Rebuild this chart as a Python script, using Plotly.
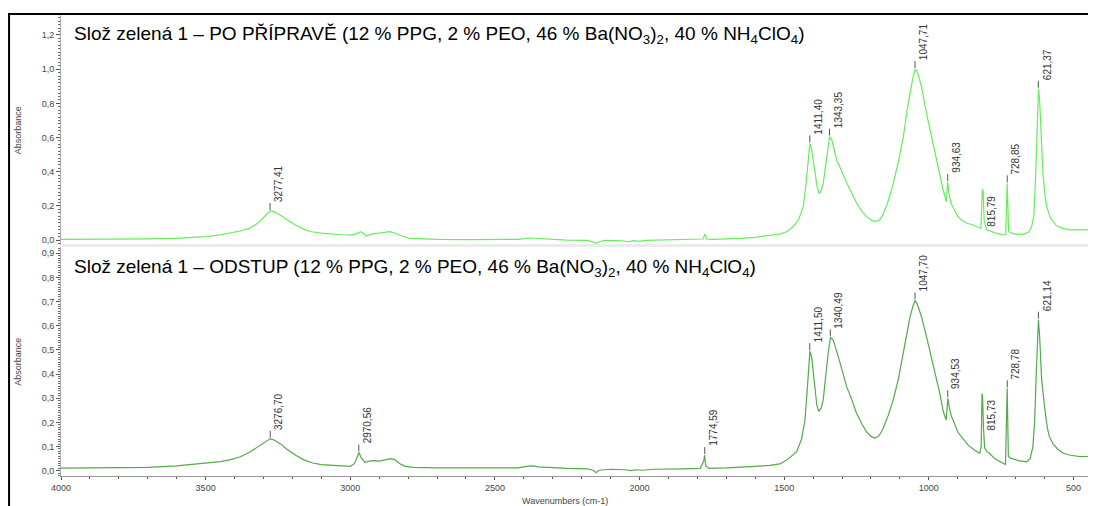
import numpy as np
import plotly.graph_objects as go

# ---------------- data ----------------
top_wn = [4000, 3900, 3800, 3700, 3600, 3500, 3450, 3416, 3380, 3347, 3320, 3300, 3285, 3277, 3265,
          3245, 3220, 3190, 3160, 3139, 3100, 3070, 3030, 2995, 2980, 2964, 2955, 2945, 2935, 2921,
          2900, 2880, 2863, 2845, 2820, 2794, 2750, 2700, 2600, 2500, 2420, 2380, 2360, 2330, 2250,
          2180, 2160, 2150, 2140, 2120, 2060, 2040, 2020, 2000, 1980, 1900, 1800, 1780, 1774, 1768,
          1750, 1700, 1650, 1600, 1560, 1515, 1490, 1469, 1450, 1434, 1425, 1417, 1411, 1405, 1398,
          1394, 1386, 1379, 1372, 1365, 1356, 1348, 1343, 1335, 1319, 1300, 1284, 1265, 1250, 1230,
          1215, 1200, 1186, 1170, 1158, 1140, 1123, 1105, 1088, 1075, 1065, 1055, 1047, 1040, 1033,
          1025, 1008, 995, 985, 972, 962, 950, 939, 935, 930, 923, 916, 900, 887, 870,
          847, 830, 820, 817, 815, 812, 809, 800, 780, 766, 745, 734, 729, 724, 714,
          700, 674, 655, 645, 637, 630, 625, 621, 617, 612, 605, 598, 593, 580, 559,
          540, 512, 460, 422]
top_abs = [0.004, 0.004, 0.005, 0.007, 0.010, 0.020, 0.030, 0.039, 0.053, 0.070, 0.098, 0.132, 0.160, 0.170, 0.166,
           0.150, 0.120, 0.088, 0.064, 0.050, 0.040, 0.035, 0.031, 0.029, 0.036, 0.049, 0.040, 0.024, 0.028, 0.038,
           0.040, 0.044, 0.049, 0.040, 0.022, 0.010, 0.006, 0.004, 0.003, 0.002, 0.004, 0.012, 0.010, 0.004, 0.000,
           -0.002, -0.012, -0.018, -0.010, -0.002, -0.004, -0.010, -0.004, -0.008, -0.002, 0.002, 0.003, 0.006, 0.035, 0.006,
           0.004, 0.006, 0.010, 0.016, 0.024, 0.035, 0.050, 0.078, 0.120, 0.195, 0.320, 0.470, 0.566, 0.530, 0.440,
           0.390, 0.310, 0.272, 0.290, 0.332, 0.450, 0.560, 0.605, 0.585, 0.470, 0.400, 0.335, 0.270, 0.217, 0.165,
           0.137, 0.118, 0.108, 0.118, 0.150, 0.230, 0.330, 0.460, 0.605, 0.760, 0.860, 0.950, 1.000, 0.985, 0.945,
           0.897, 0.742, 0.640, 0.566, 0.470, 0.390, 0.290, 0.224, 0.340, 0.270, 0.215, 0.190, 0.140, 0.117, 0.100,
           0.088, 0.075, 0.068, 0.200, 0.295, 0.290, 0.120, 0.060, 0.045, 0.039, 0.032, 0.030, 0.332, 0.050, 0.040,
           0.035, 0.033, 0.045, 0.075, 0.140, 0.400, 0.720, 0.885, 0.820, 0.600, 0.380, 0.260, 0.200, 0.130, 0.085,
           0.070, 0.060, 0.059, 0.062]

bot_wn = [4000, 3900, 3800, 3700, 3600, 3500, 3450, 3416, 3380, 3350, 3320, 3300, 3285, 3277, 3265,
          3240, 3220, 3190, 3160, 3130, 3100, 3050, 3000, 2985, 2975, 2970, 2963, 2950, 2935, 2920,
          2900, 2880, 2860, 2845, 2830, 2810, 2780, 2700, 2600, 2500, 2420, 2390, 2370, 2350, 2300,
          2250, 2180, 2160, 2150, 2140, 2100, 2050, 2030, 2010, 1990, 1950, 1850, 1790, 1778, 1775,
          1771, 1760, 1700, 1650, 1600, 1550, 1515, 1490, 1457, 1440, 1428, 1420, 1413, 1411, 1405,
          1398, 1394, 1387, 1380, 1372, 1365, 1356, 1348, 1340, 1330, 1313, 1300, 1284, 1265, 1250,
          1230, 1215, 1200, 1186, 1172, 1158, 1140, 1123, 1105, 1088, 1075, 1065, 1055, 1048, 1040,
          1033, 1025, 1008, 995, 985, 972, 962, 950, 940, 934, 929, 922, 916, 900, 887,
          875, 864, 845, 824, 819, 816, 814, 811, 807, 800, 789, 770, 754, 735, 729,
          725, 718, 708, 690, 662, 650, 640, 634, 628, 621, 617, 610, 600, 590, 583,
          570, 553, 535, 510, 477, 450, 422]
bot_abs = [0.011, 0.011, 0.012, 0.014, 0.020, 0.030, 0.038, 0.045, 0.058, 0.075, 0.098, 0.115, 0.128, 0.132, 0.128,
           0.110, 0.090, 0.065, 0.045, 0.032, 0.025, 0.020, 0.018, 0.030, 0.060, 0.075, 0.055, 0.035, 0.040, 0.042,
           0.040, 0.046, 0.050, 0.045, 0.030, 0.018, 0.014, 0.012, 0.011, 0.011, 0.012, 0.018, 0.020, 0.016, 0.012,
           0.010, 0.008, 0.002, -0.008, 0.002, 0.006, 0.004, 0.000, 0.004, 0.002, 0.006, 0.008, 0.010, 0.040, 0.065,
           0.020, 0.010, 0.012, 0.014, 0.018, 0.022, 0.028, 0.045, 0.079, 0.130, 0.210, 0.340, 0.460, 0.495, 0.470,
           0.380, 0.335, 0.270, 0.245, 0.260, 0.293, 0.400, 0.486, 0.552, 0.540, 0.472, 0.415, 0.348, 0.290, 0.238,
           0.190, 0.161, 0.142, 0.134, 0.145, 0.175, 0.230, 0.293, 0.380, 0.486, 0.580, 0.637, 0.680, 0.705, 0.690,
           0.665, 0.637, 0.555, 0.490, 0.430, 0.370, 0.320, 0.245, 0.210, 0.300, 0.260, 0.225, 0.210, 0.160, 0.141,
           0.120, 0.106, 0.088, 0.072, 0.100, 0.320, 0.300, 0.180, 0.095, 0.080, 0.070, 0.048, 0.037, 0.026, 0.341,
           0.060, 0.052, 0.048, 0.042, 0.037, 0.050, 0.100, 0.210, 0.420, 0.625, 0.560, 0.380, 0.265, 0.175, 0.141,
           0.110, 0.088, 0.072, 0.064, 0.058, 0.059, 0.061]

top_peaks = [3277.41, 1411.40, 1343.35, 1047.71, 934.63, 815.79, 728.85, 621.37]
bot_peaks = [3276.70, 2970.56, 1774.59, 1411.50, 1340.49, 1047.70, 934.53, 815.73, 728.78, 621.14]
side_label_peaks = [815.79, 815.73]   # labels drawn beside the peak instead of above

top_title = "Slož zelená 1 – PO PŘÍPRAVĚ (12 % PPG, 2 % PEO, 46 % Ba(NO<sub>3</sub>)<sub>2</sub>, 40 % NH<sub>4</sub>ClO<sub>4</sub>)"
bot_title = "Slož zelená 1 – ODSTUP (12 % PPG, 2 % PEO, 46 % Ba(NO<sub>3</sub>)<sub>2</sub>, 40 % NH<sub>4</sub>ClO<sub>4</sub>)"

x_ticks = [4000, 3500, 3000, 2500, 2000, 1500, 1000, 500]
top_yticks = [0.0, 0.2, 0.4, 0.6, 0.8, 1.0, 1.2]
bot_yticks = [0.0, 0.1, 0.2, 0.3, 0.4, 0.5, 0.6, 0.7, 0.8, 0.9]

TOP_COLOR = "rgb(102,238,90)"
BOT_COLOR = "rgb(82,170,72)"
FONT = "Liberation Sans, Arial, sans-serif"

fig = go.Figure()
fig.add_trace(go.Scatter(x=top_wn, y=top_abs, mode="lines", xaxis="x2", yaxis="y",
                         line=dict(color=TOP_COLOR, width=1.2), hoverinfo="skip"))
fig.add_trace(go.Scatter(x=bot_wn, y=bot_abs, mode="lines", xaxis="x", yaxis="y2",
                         line=dict(color=BOT_COLOR, width=1.2), hoverinfo="skip"))

annotations = []
shapes = []


def peak_height(wn, ab, p):
    wn = np.asarray(wn, float)
    ab = np.asarray(ab, float)
    m = np.abs(wn - p) <= 8
    return float(ab[m].max())


for peaks, wn, ab, xr, yr in [(top_peaks, top_wn, top_abs, "x2", "y"),
                             (bot_peaks, bot_wn, bot_abs, "x", "y2")]:
    for p in peaks:
        h = peak_height(wn, ab, p)
        label = f"{p:.2f}".replace(".", ",")
        if p in side_label_peaks:
            annotations.append(dict(x=p, y=h, xref=xr, yref=yr, text=label, showarrow=False,
                                    textangle=-90, xanchor="left", yanchor="top", xshift=2, yshift=-4,
                                    font=dict(family=FONT, size=10, color="#333")))
        else:
            shapes.append(dict(type="line", xref=xr, yref=yr, x0=p, x1=p, ysizemode="pixel",
                               yanchor=h, y0=1, y1=8, line=dict(color="#555", width=1)))
            annotations.append(dict(x=p, y=h, xref=xr, yref=yr, text=label, showarrow=False,
                                    textangle=-90, xanchor="left", yanchor="bottom", xshift=1, yshift=7,
                                    font=dict(family=FONT, size=10, color="#333")))

# panel titles
annotations.append(dict(x=0.011, y=0.9566, xref="paper", yref="paper", text=top_title, showarrow=False,
                        xanchor="left", yanchor="middle", font=dict(family=FONT, size=19, color="black")))
annotations.append(dict(x=0.011, y=0.451, xref="paper", yref="paper", text=bot_title, showarrow=False,
                        xanchor="left", yanchor="middle", font=dict(family=FONT, size=19, color="black")))
# axis titles
for yc in [0.75, 0.248]:
    annotations.append(dict(x=-0.0415, y=yc, xref="paper", yref="paper", text="Absorbance", showarrow=False,
                            textangle=-90, xanchor="center", yanchor="middle",
                            font=dict(family=FONT, size=9, color="#444")))
annotations.append(dict(x=0.487, y=-0.054, xref="paper", yref="paper", text="Wavenumbers (cm-1)",
                        showarrow=False, xanchor="center", yanchor="middle",
                        font=dict(family=FONT, size=9, color="#444")))

# separator band between panels
shapes.append(dict(type="rect", xref="paper", yref="paper", x0=0.001, x1=1, y0=0.4967, y1=0.503,
                   fillcolor="#ebebeb", line=dict(width=0), layer="below"))
# outer black frame (left and top)
shapes.append(dict(type="line", xref="paper", yref="paper", x0=-0.0502, x1=-0.0502, y0=1.0022, y1=-0.07,
                   line=dict(color="black", width=2)))
shapes.append(dict(type="line", xref="paper", yref="paper", x0=-0.0512, x1=1.01, y0=1.0022, y1=1.0022,
                   line=dict(color="black", width=2)))

tickfont = dict(family=FONT, size=9, color="#444")
fig.update_layout(
    width=1088, height=498,
    margin=dict(l=53, r=0, t=7, b=30),
    paper_bgcolor="white", plot_bgcolor="white",
    showlegend=False,
    separators=", ",
    annotations=annotations,
    shapes=shapes,
    xaxis=dict(domain=[0, 1], anchor="y2", range=[4000, 422], tickvals=x_ticks,
               ticks="outside", ticklen=3, tickcolor="#555", showline=True, linecolor="#999",
               linewidth=1, showgrid=False, zeroline=False, tickfont=tickfont,
               minor=dict(dtick=100, ticks="outside", ticklen=2, tickcolor="#555", showgrid=False)),
    xaxis2=dict(domain=[0, 1], anchor="y", matches="x", range=[4000, 422], showticklabels=False,
                ticks="", showline=False, showgrid=False, zeroline=False),
    yaxis=dict(domain=[0.501, 1], anchor="x2", range=[-0.0292, 1.317], tickvals=top_yticks,
               tickformat=".1f", ticks="outside", ticklen=4, tickcolor="#555", showline=True,
               linecolor="#aaa", linewidth=1, showgrid=False, zeroline=False, tickfont=tickfont,
               minor=dict(dtick=0.02, ticks="outside", ticklen=2, tickcolor="#666", showgrid=False)),
    yaxis2=dict(domain=[0, 0.4967], anchor="x", range=[-0.0219, 0.926], tickvals=bot_yticks,
                tickformat=".1f", ticks="outside", ticklen=4, tickcolor="#555", showline=True,
                linecolor="#aaa", linewidth=1, showgrid=False, zeroline=False, tickfont=tickfont,
                minor=dict(dtick=0.01, ticks="outside", ticklen=2, tickcolor="#666", showgrid=False)),
)

fig.write_html("out.html")
